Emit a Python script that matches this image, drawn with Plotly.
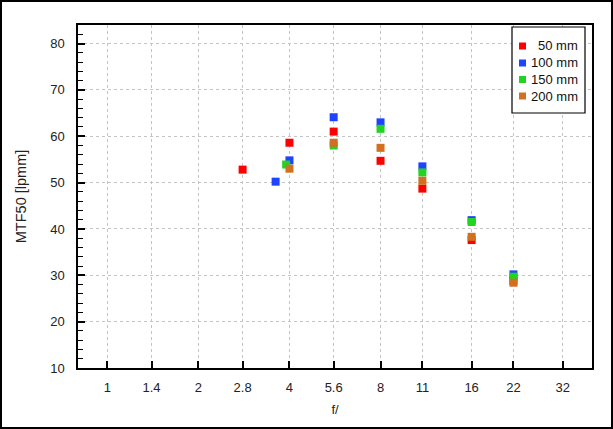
import math
import plotly.graph_objects as go

# ---- data ----
f_ticks = [1, 1.4, 2, 2.8, 4, 5.6, 8, 11, 16, 22, 32]
f_tick_labels = ["1", "1.4", "2", "2.8", "4", "5.6", "8", "11", "16", "22", "32"]
y_ticks = [10, 20, 30, 40, 50, 60, 70, 80]

names = ["50 mm", "100 mm", "150 mm", "200 mm"]
colors = ["#ff0000", "#1f44ff", "#22d322", "#d07020"]

x_50 = [2.8, 4, 5.6, 8, 11, 16, 22]
y_50 = [52.8, 58.6, 61.0, 54.7, 48.7, 37.6, 28.8]

x_100 = [3.6, 4, 5.6, 8, 11, 16, 22]
y_100 = [50.2, 54.8, 64.1, 63.0, 53.5, 41.9, 30.2]

x_150 = [3.9, 5.6, 8, 11, 16, 22]
y_150 = [53.9, 58.0, 61.6, 52.2, 41.5, 29.7]

x_200 = [4, 5.6, 8, 11, 16, 22]
y_200 = [53.0, 58.6, 57.5, 50.4, 38.3, 28.4]

xs_all = [x_50, x_100, x_150, x_200]
ys_all = [y_50, y_100, y_150, y_200]

W, H = 613, 429
ML, MR, MT, MB = 78, 21, 25, 61
pw = W - ML - MR
ph = H - MT - MB


def px(x):
    return (x - ML) / pw


def py(y):
    return 1 - (y - MT) / ph


fig = go.Figure()
for name, xs, ys, col in zip(names, xs_all, ys_all, colors):
    fig.add_trace(go.Scatter(
        x=xs, y=ys, mode="markers", name=name, showlegend=False,
        marker=dict(symbol="square", size=8, color=col, line=dict(width=0)),
    ))

FAM = "Liberation Sans, Arial, sans-serif"
font = dict(family=FAM, size=13, color="#222222")

fig.update_layout(
    width=W, height=H,
    margin=dict(l=ML, r=MR, t=MT, b=MB, pad=0),
    paper_bgcolor="white", plot_bgcolor="white",
    font=font,
    showlegend=False,
    xaxis=dict(
        type="log",
        range=[math.log10(0.8), math.log10(40)],
        tickvals=f_ticks, ticktext=f_tick_labels,
        tickfont=font,
        ticks="inside", ticklen=7, tickwidth=1.5, tickcolor="black",
        showline=True, linecolor="black", linewidth=1.5, mirror=True,
        showgrid=True, gridcolor="#c4c4c4", griddash="3px,3px", gridwidth=1,
        zeroline=False,
        ticklabelstandoff=7,
        title=dict(text="f/", standoff=11, font=font),
    ),
    yaxis=dict(
        range=[10, 84],
        tickvals=y_ticks,
        tickfont=font,
        ticks="inside", ticklen=7, tickwidth=1.5, tickcolor="black",
        minor=dict(dtick=2, ticks="inside", ticklen=5, tickwidth=1, tickcolor="black", showgrid=False),
        showline=True, linecolor="black", linewidth=1.5, mirror=True,
        showgrid=True, gridcolor="#c4c4c4", griddash="3px,3px", gridwidth=1,
        zeroline=False,
        ticklabelstandoff=9,
        title=dict(text="MTF50 [lpmm]", standoff=20, font=dict(family=FAM, size=14.5, color="#222222")),
    ),
)

# outer frame of the image
fig.add_shape(
    type="rect", xref="paper", yref="paper",
    x0=px(1), x1=px(W - 1), y0=py(H - 1), y1=py(1),
    line=dict(color="black", width=2), fillcolor="rgba(0,0,0,0)", layer="above",
)

# legend box (drawn manually to match the compact reference legend)
fig.add_shape(
    type="rect", xref="paper", yref="paper",
    x0=px(512), x1=px(585), y0=py(113), y1=py(27),
    line=dict(color="black", width=1.2), fillcolor="white", layer="above",
)
row_y = [46, 63, 79.5, 96]
for name, col, ry in zip(names, colors, row_y):
    fig.add_shape(
        type="rect", xref="paper", yref="paper",
        x0=px(519), x1=px(526), y0=py(ry + 3.5), y1=py(ry - 3.5),
        line=dict(width=0), fillcolor=col, layer="above",
    )
    fig.add_annotation(
        xref="paper", yref="paper", x=px(580), y=py(ry),
        text=name, showarrow=False, xanchor="right", yanchor="middle",
        font=dict(family=FAM, size=13, color="#111111"),
    )

fig.write_html(
    "out.html",
    config={"displayModeBar": False},
    post_script="document.body.style.margin='0';document.body.style.overflow='hidden';",
)
